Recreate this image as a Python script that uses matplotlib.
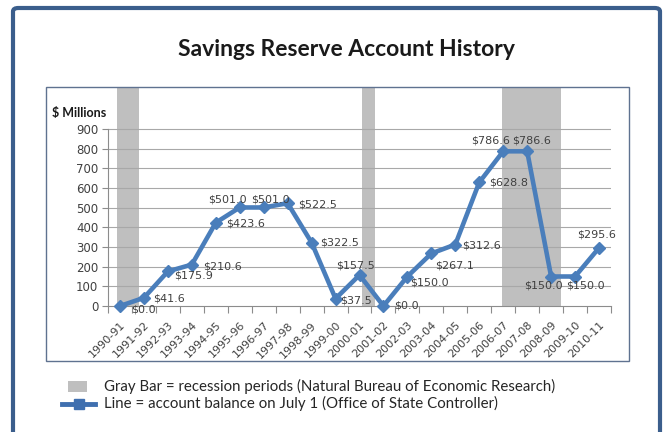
''' Savings Reserve Account History chart '''

import matplotlib
matplotlib.use('Agg')
import matplotlib.pyplot as plt
from matplotlib.patches import Rectangle, FancyBboxPatch
from matplotlib.lines import Line2D

years = ['1990-91', '1991-92', '1992-93', '1993-94', '1994-95', '1995-96',
         '1996-97', '1997-98', '1998-99', '1999-00', '2000-01', '2001-02',
         '2002-03', '2003-04', '2004-05', '2005-06', '2006-07', '2007-08',
         '2008-09', '2009-10', '2010-11']
balance = [0.0, 41.6, 175.9, 210.6, 423.6, 501.0, 501.0, 522.5, 322.5, 37.5,
           157.5, 0.0, 150.0, 267.1, 312.6, 628.8, 786.6, 786.6, 150.0, 150.0,
           295.6]
# recession spans in category units
recessions = [(-0.12, 0.8), (10.1, 10.65), (15.95, 18.4)]
y_ticks = [0, 100, 200, 300, 400, 500, 600, 700, 800, 900]

# label placement: (ha, dx px, dy px)
label_pos = [('left', 11, -3), ('left', 9, -1), ('left', 6, -4), ('left', 11, -2),
             ('left', 10, -1), ('center', -12, 8), ('center', 7, 8),
             ('left', 10, -1), ('left', 9, 0), ('left', 5, -2),
             ('center', -4, 10), ('left', 11, 0), ('left', 3, -6),
             ('center', 23, -12), ('left', 7, -1), ('left', 10, 0),
             ('center', -13, 11), ('center', 4, 11), ('center', -8, -9),
             ('center', 10, -9), ('center', -2, 13)]

W, H = 665, 432
LINE_BLUE = '#4a7ebb'
TEXT = '#404040'
AXIS_GRAY = '#8c8c8c'

fig = plt.figure(figsize=(W / 100, H / 100), dpi=100)
fig.patch.set_facecolor('white')


def fx(px):
    return px / W


def fy(py):
    return 1 - py / H


# outer rounded frame
frame = FancyBboxPatch((fx(13), fy(445)), fx(647), (445 - 8) / H,
                       boxstyle='round,pad=0,rounding_size=0.008',
                       transform=fig.transFigure, fill=False,
                       edgecolor='#3b5e8c', linewidth=3.0, zorder=0)
fig.patches.append(frame)
# inner chart box
inner = Rectangle((fx(46), fy(361)), fx(583), (361 - 87) / H,
                  transform=fig.transFigure, fill=False,
                  edgecolor='#5f7290', linewidth=1.0, zorder=0)
fig.patches.append(inner)

fig.text(fx(346), fy(50), 'Savings Reserve Account History', family='Lato',
         weight='bold', fontsize=16.5, ha='center', va='center', color='#1a1a1a')

y_top = 900 * (306 - 88) / (306 - 129)
ax = fig.add_axes([fx(108), fy(306), fx(611 - 108), (306 - 88) / H])
ax.set_xlim(-0.5, len(years) - 0.5)
ax.set_ylim(0, y_top)
ax.set_facecolor('none')

for start, end in recessions:
    ax.axvspan(start, end, color='#bfbfbf', linewidth=0, zorder=1)

for v in y_ticks[1:]:
    ax.axhline(v, color='#a8a8a8', linewidth=0.8, zorder=2)

x = list(range(len(years)))
ax.plot(x, balance, color=LINE_BLUE, linewidth=3.3, marker='D', markersize=6,
        zorder=4, clip_on=False)

for i, v in enumerate(balance):
    ha, dx, dy = label_pos[i]
    ax.annotate('$%.1f' % v, (i, v), xytext=(dx, dy), textcoords='offset pixels',
                ha=ha, va='center', fontsize=8, color=TEXT, zorder=5)

for side in ['top', 'right']:
    ax.spines[side].set_visible(False)
ax.spines['left'].set_bounds(0, 900)
ax.spines['left'].set_color(AXIS_GRAY)
ax.spines['bottom'].set_color(AXIS_GRAY)
ax.spines['left'].set_zorder(3)
ax.spines['bottom'].set_zorder(3)

ax.set_yticks(y_ticks)
ax.tick_params(axis='y', colors=AXIS_GRAY, labelcolor=TEXT, labelsize=8.5,
               length=4, width=0.8, pad=3)
ax.set_xticks(x)
ax.set_xticklabels(years, rotation=45, ha='right', rotation_mode='anchor')
ax.tick_params(axis='x', which='major', length=0, labelsize=8,
               labelcolor=TEXT, pad=10)
ax.set_xticks([i - 0.5 for i in range(len(years) + 1)], minor=True)
ax.tick_params(axis='x', which='minor', length=5, width=0.8, colors=AXIS_GRAY)

fig.text(fx(52), fy(113), '$ Millions', family='Lato', weight='bold',
         fontsize=9, ha='left', va='center', color='#1a1a1a')

# legend
fig.patches.append(Rectangle((fx(68), fy(392)), fx(19), 11 / H,
                             transform=fig.transFigure, facecolor='#bfbfbf',
                             edgecolor='none'))
fig.lines.append(Line2D([fx(62), fx(95)], [fy(403.5), fy(403.5)],
                        transform=fig.transFigure, color='#3f6faf',
                        linewidth=3.5))
fig.lines.append(Line2D([fx(78.5)], [fy(403.5)], transform=fig.transFigure,
                        color='#3f6faf', marker='s', markersize=7))
fig.text(fx(104), fy(386), 'Gray Bar = recession periods (Natural Bureau of Economic Research)',
         family='Lato', fontsize=10.8, ha='left', va='center', color='#262626')
fig.text(fx(104), fy(403), 'Line = account balance on July 1 (Office of State Controller)',
         family='Lato', fontsize=10.8, ha='left', va='center', color='#262626')

fig.savefig('out.png', dpi=100)
